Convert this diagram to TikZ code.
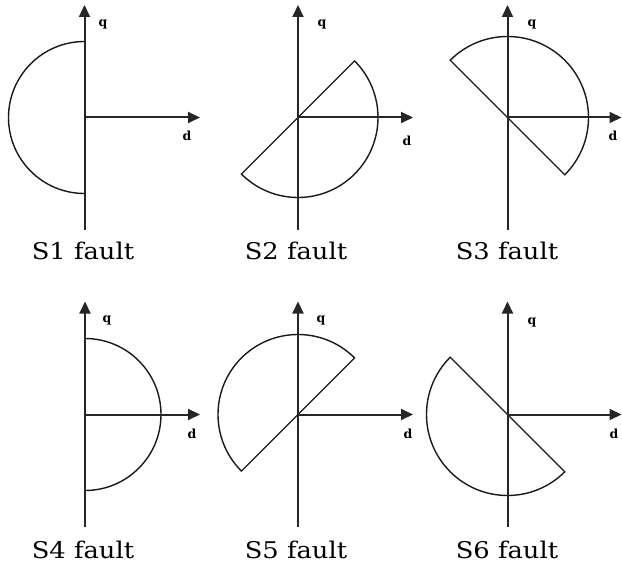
\documentclass[tikz,border=0pt]{standalone}
\usepackage{fontspec}
\setmainfont{DejaVu Serif}
\usetikzlibrary{arrows.meta}
\tikzset{
  axis/.style={line width=2pt, draw=black!85, -{Triangle[length=12pt,width=11pt]}},
  curve/.style={line width=1.4pt, draw=black!90},
  axlabel/.style={font=\bfseries\fontsize{12.5}{12.5}\selectfont, inner sep=0pt},
  caption/.style={font=\fontsize{23}{23}\selectfont, inner sep=0pt, xscale=1.12, anchor=base}
}
\begin{document}
\begin{tikzpicture}[x=1pt,y=-1pt]
\useasboundingbox (0,0) rectangle (622,567);
% ---------- Panel 1 ----------
\coordinate (o1) at (84.5,117.5);
\coordinate (t1) at (84.5,5);
\coordinate (b1) at (84.5,230);
\coordinate (r1) at (200,117.5);
\draw[curve] (o1) ++(270:76) arc[start angle=270,end angle=90,radius=76];
\draw[axis] (b1) -- (t1);
\draw[axis] (o1) -- (r1);
\node[axlabel] (q1) at (103,24) {q};
\node[axlabel] (d1) at (187,136) {d};
\node[caption] (c1) at (83,259.5) {S1 fault};
% ---------- Panel 2 ----------
\coordinate (o2) at (298,117.5);
\coordinate (t2) at (298,5);
\coordinate (b2) at (298,230);
\coordinate (r2) at (413,117.5);
\draw[curve] (o2) ++(-45:80) arc[start angle=-45,end angle=135,radius=80] -- cycle;
\draw[axis] (b2) -- (t2);
\draw[axis] (o2) -- (r2);
\node[axlabel] (q2) at (322,24) {q};
\node[axlabel] (d2) at (407,141) {d};
\node[caption] (c2) at (296,259.5) {S2 fault};
% ---------- Panel 3 ----------
\coordinate (o3) at (507.5,117.5);
\coordinate (t3) at (507.5,5);
\coordinate (b3) at (507.5,230);
\coordinate (r3) at (621.5,117.5);
\draw[curve] (o3) ++(225:81) arc[start angle=225,end angle=405,radius=81] -- cycle;
\draw[axis] (b3) -- (t3);
\draw[axis] (o3) -- (r3);
\node[axlabel] (q3) at (532,24) {q};
\node[axlabel] (d3) at (613,136) {d};
\node[caption] (c3) at (507,259.5) {S3 fault};
% ---------- Panel 4 ----------
\coordinate (o4) at (85,414.5);
\coordinate (t4) at (85,301.5);
\coordinate (b4) at (85,526.5);
\coordinate (r4) at (200,414.5);
\draw[curve] (o4) ++(-90:76) arc[start angle=-90,end angle=90,radius=76];
\draw[axis] (b4) -- (t4);
\draw[axis] (o4) -- (r4);
\node[axlabel] (q4) at (107,320) {q};
\node[axlabel] (d4) at (192,434) {d};
\node[caption] (c4) at (83,558) {S4 fault};
% ---------- Panel 5 ----------
\coordinate (o5) at (298,414.5);
\coordinate (t5) at (298,301.5);
\coordinate (b5) at (298,526.5);
\coordinate (r5) at (413,414.5);
\draw[curve] (o5) ++(-45:80) arc[start angle=-45,end angle=-225,radius=80] -- cycle;
\draw[axis] (b5) -- (t5);
\draw[axis] (o5) -- (r5);
\node[axlabel] (q5) at (321,320) {q};
\node[axlabel] (d5) at (408,434) {d};
\node[caption] (c5) at (296,558) {S5 fault};
% ---------- Panel 6 ----------
\coordinate (o6) at (507.5,414.5);
\coordinate (t6) at (507.5,301.5);
\coordinate (b6) at (507.5,526.5);
\coordinate (r6) at (621.5,414.5);
\draw[curve] (o6) ++(225:81) arc[start angle=225,end angle=45,radius=81] -- cycle;
\draw[axis] (b6) -- (t6);
\draw[axis] (o6) -- (r6);
\node[axlabel] (q6) at (532,322) {q};
\node[axlabel] (d6) at (614,434) {d};
\node[caption] (c6) at (507,558) {S6 fault};
\end{tikzpicture}
\end{document}
